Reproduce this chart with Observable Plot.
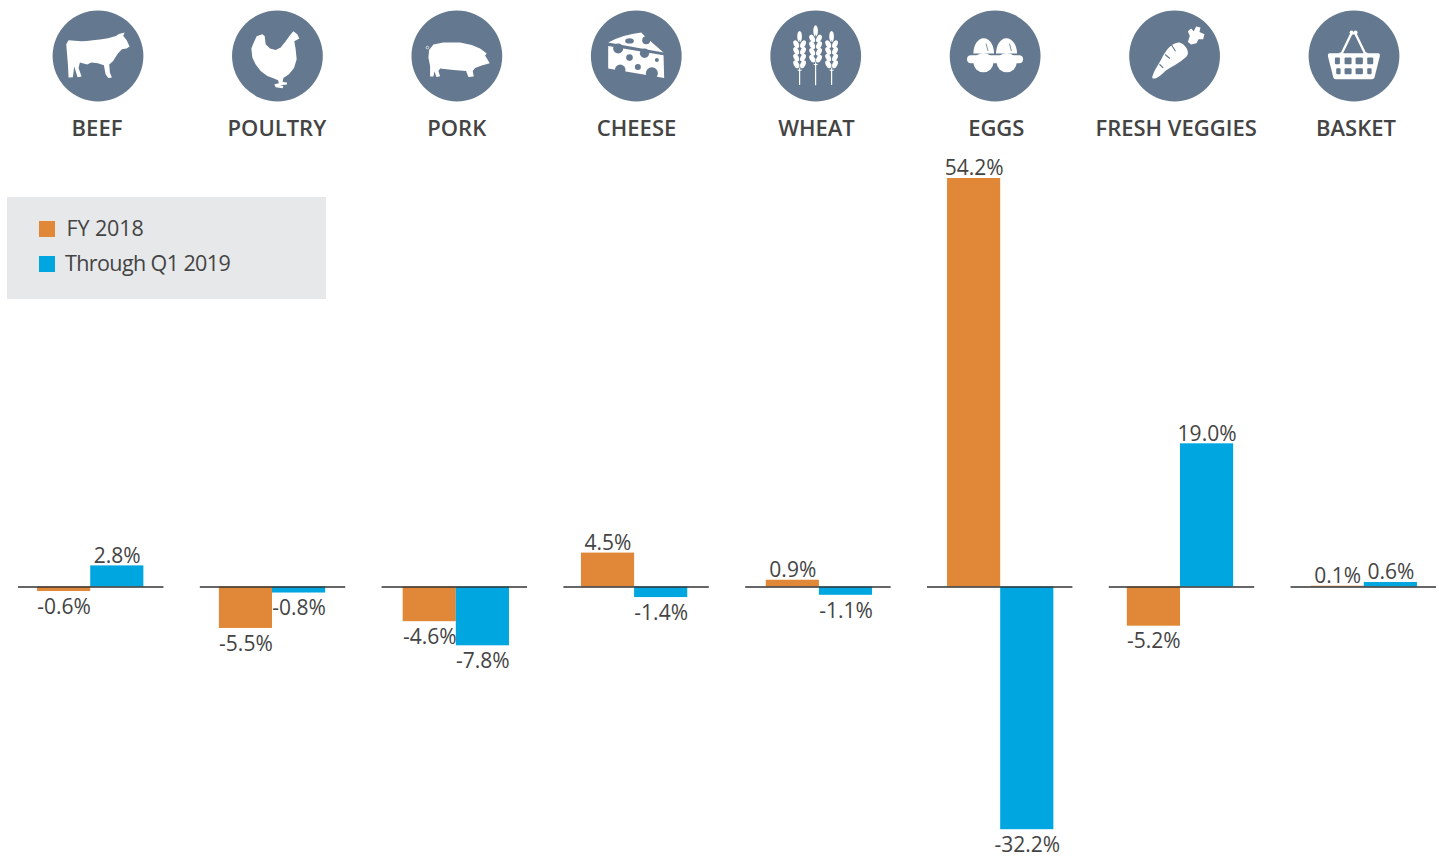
<!DOCTYPE html>
<html>
<head>
<meta charset="utf-8">
<script src="https://cdn.jsdelivr.net/npm/d3@7"></script>
<script src="https://cdn.jsdelivr.net/npm/@observablehq/plot@0.6"></script>
<style>
  html, body { margin: 0; padding: 0; background: #fff; }
  #wrap { position: relative; width: 1439px; height: 857px; overflow: hidden; font-family: "Open Sans", sans-serif; color: #444; }
  #wrap > .layer { position: absolute; left: 0; }
  #wrap svg { display: block; background: transparent; }
  #legend { position: absolute; left: 7px; top: 197px; width: 319px; height: 102px; background: #e7e8ea; }
  #legend div { position: absolute; left: 32px; font-size: 21.5px; line-height: 30px; white-space: nowrap; }
  #legend i { position: absolute; left: 0; top: 9px; width: 16px; height: 16px; }
  #legend span { position: absolute; top: 0; }
</style>
</head>
<body>
<div id="wrap"></div>
<script>
const categories = ["BEEF", "POULTRY", "PORK", "CHEESE", "WHEAT", "EGGS", "FRESH VEGGIES", "BASKET"];
const seriesNames = ["FY 2018", "Through Q1 2019"];
const fy2018 = [-0.6, -5.5, -4.6, 4.5, 0.9, 54.2, -5.2, 0.1];
const q12019 = [2.8, -0.8, -7.8, -1.4, -1.1, -32.2, 19.0, 0.6];
const seriesColors = ["#e08837", "#00a6df"];
const iconColor = "#64798f";
const textColor = "#444444";
const groupNudge = [-0.5, -0.5, 1.5, -2, 1, 0.5, -1.5, 0.5];

const rows = categories.flatMap((category, i) => [
  {category, series: seriesNames[0], value: fy2018[i]},
  {category, series: seriesNames[1], value: q12019[i]}
]);

/* ---------- icon glyphs, drawn in the 300-unit box of one badge ---------- */
const blob = (pts) => d3.line().curve(d3.curveCatmullRomClosed.alpha(0.6))(pts.trim().split(/\s+/).map(p => p.split(",").map(Number)));
const svgNS = "http://www.w3.org/2000/svg";
const W = "#ffffff", C = iconColor;
const P = (d, fill = W, extra = "") => `<path d="${d}" fill="${fill}" ${extra}/>`;
const E = (x, y, rx, ry, fill = C, rot = 0) => `<ellipse cx="${x}" cy="${y}" rx="${rx}" ry="${ry}" fill="${fill}" transform="rotate(${rot} ${x} ${y})"/>`;
const L = (x1, y1, x2, y2, w, col = C) => `<line x1="${x1}" y1="${y1}" x2="${x2}" y2="${y2}" stroke="${col}" stroke-width="${w}"/>`;
const R = (x, y, w, h, r = 3, fill = C) => `<rect x="${x}" y="${y}" width="${w}" height="${h}" rx="${r}" fill="${fill}"/>`;

const wheatHead = (x, top) => {
  let s = L(x, top + 100, x, top + 180 - (top < 70 ? 0 : 18), 3.5, W) + E(x, top + 17, 7, 17, W);
  for (let i = 0; i < 4; i++) {
    const y = top + 40 + i * 20;
    s += E(x - 10, y, 7.5, 12.5, W, -28) + E(x + 10, y, 7.5, 12.5, W, 28);
  }
  return s + L(x, top + 28, x, top + 112, 2, C) + L(x - 6, top + 118, x + 6, top + 118, 3, W);
};

const glyphs = {
  BEEF: P("M62 103 L100 106 Q130 105 180 97 L204 90 L213 84 L230 80 L226 90 L236 102 L245 122 L236 128 L222 130 L210 143 L195 166 L184 176 L186 200 L192 215 L181 216 L173 205 L168 178 L150 172 L130 170 L118 176 L96 170 L92 186 L101 212 L89 214 L79 182 L75 214 L62 215 L60 175 L57 140 L55 115 Z"),
  POULTRY: P("M105 85 L88 91 L80 108 L72 128 L75 155 L85 176 L100 195 L120 210 L140 218 L152 223 L155 232 L141 235 L145 244 L166 247 L168 240 L158 238 L179 236 L179 230 L166 228 L168 216 L185 205 L200 186 L208 160 L205 130 L201 106 L216 98 L210 85 L198 76 L188 88 L175 106 L160 125 L145 132 L128 128 L115 115 L112 90 Z"),
  PORK: P("M67 132 L80 116 L110 110 L160 110 L195 117 L220 128 L240 143 L235 149 L249 172 L225 179 L205 186 L198 195 L201 212 L185 213 L178 195 L140 192 L100 188 L95 195 L100 211 L89 213 L83 196 L80 212 L70 212 L70 180 L65 155 Z")
    + `<circle cx="62" cy="125" r="4" fill="none" stroke="${W}" stroke-width="2"/>`,
  CHEESE: P("M66 110 Q110 86 165 80 L180 95 L232 140 Z")
    + P("M66 120 L232 148 L234 216 L66 188 Z")
    + E(130, 105, 13, 8) + `<circle cx="180" cy="103" r="12" fill="${C}"/>` + `<circle cx="96" cy="128" r="15" fill="${C}"/>`
    + `<circle cx="130" cy="155" r="10" fill="${C}"/><circle cx="175" cy="142" r="14" fill="${C}"/><circle cx="212" cy="162" r="6" fill="${C}"/>`
    + `<circle cx="155" cy="183" r="9" fill="${C}"/><circle cx="102" cy="192" r="16" fill="${C}"/><circle cx="197" cy="202" r="18" fill="${C}"/>`
    + L(66, 115, 232, 144, 3),
  WHEAT: wheatHead(102, 75) + wheatHead(150, 58) + wheatHead(198, 75),
  EGGS: R(66, 148, 168, 24, 12, W)
    + E(115, 170, 30, 29, W) + E(185, 170, 30, 29, W)
    + P("M85 143 C85 118 98 97 116 97 C134 97 147 118 147 143 Z")
    + P("M153 143 C153 118 166 97 184 97 C202 97 216 118 216 143 Z")
    + L(123, 113, 129, 135, 2.5) + L(193, 113, 199, 135, 2.5),
  "FRESH VEGGIES": P(blob("88,200 105,170 125,135 145,116 165,110 185,125 190,145 170,165 130,190 96,216 84,217"))
    + L(140, 115, 153, 136, 3.5) + L(122, 146, 136, 158, 3.5) + L(105, 175, 116, 186, 3.5)
    + P("M190 108 L196 90 L190 76 L200 68 L208 76 L215 62 L228 65 L225 78 L240 85 L236 100 L222 100 L216 112 L200 116 Z"),
  BASKET: `<path d="M112 146 L143 82 L154 82 L185 146" fill="none" stroke="${W}" stroke-width="7"/>`
    + `<circle cx="112" cy="146" r="7" fill="${W}"/><circle cx="185" cy="146" r="7" fill="${W}"/><circle cx="143" cy="80" r="6" fill="${W}"/><circle cx="155" cy="80" r="6" fill="${W}"/>`
    + P("M76 142 L224 142 Q229 143 228 150 L212 214 Q210 220 205 220 L95 220 Q90 220 88 214 L72 150 Q71 143 76 142 Z")
    + R(93, 155, 15, 20) + R(122, 155, 21, 20) + R(155, 155, 22, 20) + R(190, 155, 18, 20)
    + R(97, 187, 13, 18) + R(122, 187, 21, 18) + R(155, 187, 22, 18) + R(190, 187, 13, 18)
};

/* ---------- badge row ---------- */
const badges = Plot.plot({
  width: 1439, height: 112, margin: 0,
  x: {type: "point", domain: categories, range: [97.5, 1353.5], padding: 0, round: false, axis: null},
  y: {domain: [0, 1], range: [55.5, 55.5], axis: null},
  marks: [
    Plot.dot(categories, {x: d => d, y: () => 0, r: 45.4, fill: iconColor, stroke: "none"}),
    (index, scales) => {
      const g = document.createElementNS(svgNS, "g");
      g.innerHTML = categories.map(c =>
        `<g transform="translate(${scales.x(c) - 49.6},${55.5 - 49.6}) scale(${1 / 3})">${glyphs[c]}</g>`).join("");
      return g;
    }
  ]
});

/* ---------- category labels ---------- */
const labels = Plot.plot({
  width: 1439, height: 40, margin: 0,
  x: {type: "point", domain: categories, range: [96.5, 1355.5], padding: 0, round: false, axis: null},
  y: {domain: [0, 1], range: [20, 20], axis: null},
  marks: [
    Plot.text(categories, {x: d => d, y: () => 0, text: d => d, fontSize: 22, fontWeight: 600, fill: textColor, fontFamily: '"Open Sans", sans-serif', letterSpacing: "-0.1px"})
  ]
});

/* ---------- bars ---------- */
const pct = d => d.toFixed(1) + "%";
const valueText = {fx: "category", x: "series", y: "value", text: d => pct(d.value), fontSize: 21, letterSpacing: "-0.3px", fill: textColor, fontFamily: '"Open Sans", sans-serif'};
const chart = Plot.plot({
  width: 1439, height: 707,
  marginTop: 0, marginBottom: 0, marginLeft: 18, marginRight: 3,
  fx: {domain: categories, paddingInner: 0.2, paddingOuter: 0, round: false, axis: null, label: null},
  x: {domain: seriesNames, paddingInner: 0, paddingOuter: 0.368, round: false, axis: null, label: null},
  y: {domain: [-32.2, 54.2], range: [679.2, 28], axis: null, label: null},
  color: {domain: seriesNames, range: seriesColors},
  marks: [
    ...categories.flatMap((c, i) => {
      const group = rows.filter(d => d.category === c);
      return [
        Plot.barY(group, {fx: "category", x: "series", y: "value", fill: "series", dx: groupNudge[i]}),
        Plot.text(group.filter(d => d.value >= 0), {...valueText, dx: groupNudge[i], dy: -10}),
        Plot.text(group.filter(d => d.value < 0), {...valueText, dx: groupNudge[i], dy: 15.5})
      ];
    }),
    Plot.ruleY([0], {stroke: "#333333", strokeWidth: 1.5})
  ]
});

/* ---------- assemble ---------- */
const wrap = document.getElementById("wrap");
[[badges, 0], [labels, 108], [chart, 150]].forEach(([el, top]) => {
  el.classList.add("layer");
  el.style.top = top + "px";
  wrap.appendChild(el);
});
const legend = document.createElement("div");
legend.id = "legend";
const legendStyle = ["left:27.5px;letter-spacing:-0.1px", "left:26px;letter-spacing:-0.6px"];
legend.innerHTML = seriesNames.map((name, i) =>
  `<div style="top:${16 + i * 35}px"><i style="top:${8}px;background:${seriesColors[i]}"></i><span style="${legendStyle[i]}">${name}</span></div>`).join("");
wrap.appendChild(legend);
</script>
</body>
</html>
